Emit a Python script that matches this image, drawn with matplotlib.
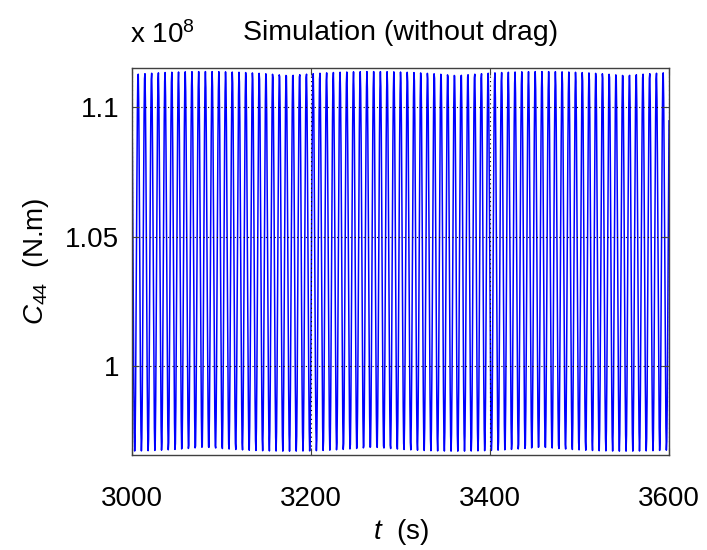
import numpy as np
import matplotlib
matplotlib.use("Agg")
import matplotlib.pyplot as plt

# Simulated torque C44 (without drag), sampled output of the model
T_START, T_END = 3000.0, 3600.0      # s
DT = 0.5                             # s, output step of the simulation
C44_MEAN = 1.0404e8                  # N.m
C44_AMPLITUDE = 0.0734e8             # N.m
C44_PERIOD = 7.52                    # s

x_ticks = [3000, 3200, 3400, 3600]
y_ticks = [1.0, 1.05, 1.1]
y_tick_labels = ["1", "1.05", "1.1"]
y_scale = 1e8
y_limits = (0.9655, 1.1152)

t = np.arange(T_START, T_END + DT / 2, DT)
c44 = C44_MEAN + C44_AMPLITUDE * np.cos(2 * np.pi * (t - T_START) / C44_PERIOD + 0.6)

plt.rcParams["font.family"] = ["Liberation Sans", "DejaVu Sans"]
plt.rcParams["mathtext.fontset"] = "custom"
plt.rcParams["mathtext.rm"] = "Liberation Sans"
plt.rcParams["mathtext.it"] = "Liberation Sans:italic"

fig = plt.figure(figsize=(7.07, 5.5), dpi=100)
ax = fig.add_axes([0.1867, 0.1727, 0.9463 - 0.1867, 0.8764 - 0.1727])

ax.plot(t, c44 / y_scale, color=(0, 0, 1), lw=1.1, zorder=2)

ax.set_xlim(T_START, T_END)
ax.set_ylim(*y_limits)
ax.set_xticks(x_ticks)
ax.set_yticks(y_ticks)
ax.set_yticklabels(y_tick_labels)

edge = (0.25, 0.25, 0.25)
for s in ax.spines.values():
    s.set_color(edge)
    s.set_linewidth(1.0)
    s.set_zorder(4)
ax.tick_params(direction="in", length=5, width=0.8, color=edge,
               top=True, right=True, labelsize=20, labelcolor="black")
ax.tick_params(axis="x", pad=22)
ax.tick_params(axis="y", pad=9)

ax.grid(True, color="black", linestyle=(0, (1, 3)), linewidth=0.8, zorder=3)
ax.set_axisbelow(False)

ax.set_title("Simulation (without drag)", fontsize=20.5, pad=20)
ax.set_xlabel("$t$  (s)", fontsize=20, labelpad=4)
ax.set_ylabel("$C_{44}$  (N.m)", fontsize=20, labelpad=10)

fig.text(0.184, 0.922, r"x 10$^{8}$", fontsize=20, ha="left", va="baseline")

fig.savefig("out.png", dpi=100)
